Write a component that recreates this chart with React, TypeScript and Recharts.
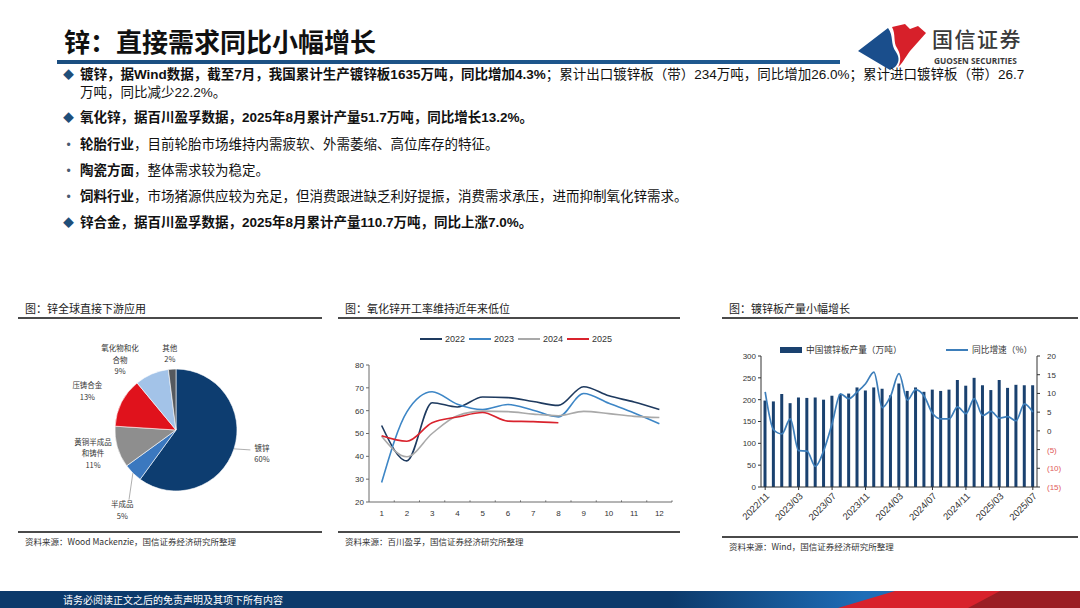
import React from "react";
import {
  Bar,
  Cell,
  ComposedChart,
  Line,
  LineChart,
  Pie,
  PieChart,
  ReferenceLine,
  XAxis,
  YAxis,
} from "recharts";

const CJK = '"Noto Sans CJK SC", "Noto Sans", sans-serif';
const NUM = '"Liberation Sans", "Noto Sans CJK SC", sans-serif';

// 图：锌全球直接下游应用
const useNames = ["镀锌", "半成品", "黄铜半成品和铸件", "压铸合金", "氧化物和化合物", "其他"];
const useShares = [60, 5, 11, 13, 9, 2];

// 图：氧化锌开工率维持近年来低位
const utilMonths = [1, 2, 3, 4, 5, 6, 7, 8, 9, 10, 11, 12];
const utilYears = ["2022", "2023", "2024", "2025"];
const util2022 = [53.5, 38, 63.5, 61.6, 66, 65.7, 64, 62.3, 70.5, 66.5, 63.8, 60.5];
const util2023 = [28.5, 59.5, 68.3, 62.8, 60.5, 62.7, 60.2, 57.3, 67.5, 63.2, 59, 54.3];
const util2024 = [48.8, 39.8, 50, 57.8, 59.8, 59.6, 58.5, 57.8, 59.7, 58.7, 57.5, 57];
const util2025 = [49, 46.6, 54.7, 57.2, 59.2, 55.4, 55.2, 54.7];
const utilAxisTicks = [20, 30, 40, 50, 60, 70, 80];
const utilBoundaries = [1.5, 2.5, 3.5, 4.5, 5.5, 6.5, 7.5, 8.5, 9.5, 10.5, 11.5, 12.5];

// 图：镀锌板产量小幅增长
const plateMonths = [
  "2022/11", "2022/12", "2023/01", "2023/02", "2023/03", "2023/04", "2023/05", "2023/06",
  "2023/07", "2023/08", "2023/09", "2023/10", "2023/11", "2023/12", "2024/01", "2024/02",
  "2024/03", "2024/04", "2024/05", "2024/06", "2024/07", "2024/08", "2024/09", "2024/10",
  "2024/11", "2024/12", "2025/01", "2025/02", "2025/03", "2025/04", "2025/05", "2025/06",
  "2025/07",
];
const plateOutput = [
  198, 196, 213, 192, 205, 204, 205, 200, 209, 213, 214, 228, 221, 228, 225, 210, 237,
  220, 228, 218, 223, 220, 223, 245, 232, 250, 233, 222, 245, 227, 234, 233, 233,
];
const plateYoy = [
  10.4, 0.3, -0.8, 3.2, -5.3, -5.4, -9.5, -5.3, 1.9, 9.9, 8.6, 10.4, 12.6, 15.7, 6.2, 9.3,
  15.3, 8.2, 11, 9.3, 4.7, 3.2, 3.2, 6.4, 4.6, 8.6, 4.1, 5.2, 3.4, 3.8, 2.7, 7.2, 5,
];
const plateLeftTicks = [0, 50, 100, 150, 200, 250, 300];
const plateRightTicks = [-15, -10, -5, 0, 5, 10, 15, 20];

const pieColors = ["#0D3D70", "#3B78BF", "#8E8E8E", "#E0121C", "#A3C3E8", "#55595E"];
// label placement per slice: extra distance beyond the rim, angle nudge, leader line
const pieLabelGap = [28, 35, 25, 36, 29, 16];
const pieLabelTurn = [3, 11, -1, 3, 15, 1];
const pieLeader = [true, true, false, false, false, false];
const utilColors = ["#1E3A5F", "#3D86C6", "#A9A9A9", "#D9232D"];

const pieRows = useNames.map((name, i) => ({ name, share: useShares[i] }));
const utilSeries = [util2022, util2023, util2024, util2025];
const utilRows = utilMonths.map((month, i) => {
  const row: Record<string, number> = { month };
  utilYears.forEach((year, k) => {
    if (utilSeries[k][i] !== undefined) row[year] = utilSeries[k][i];
  });
  return row;
});
const plateRows = plateMonths.map((month, i) => ({
  month,
  output: plateOutput[i],
  yoy: plateYoy[i],
}));

const RAD = Math.PI / 180;

function chunk(text: string, size: number) {
  const out: string[] = [];
  for (let i = 0; i < text.length; i += size) out.push(text.slice(i, i + size));
  return out;
}

function renderPieLabel(props: any) {
  const { cx, cy, midAngle, outerRadius, index, name, value } = props;
  const a = (midAngle + pieLabelTurn[index]) * RAD;
  const r = outerRadius + pieLabelGap[index];
  const x = cx + r * Math.cos(a);
  const y = cy - r * Math.sin(a);
  const lines = [...chunk(name, 5), `${value}%`];
  const lh = 11.5;
  const top = y - ((lines.length - 1) * lh) / 2;
  return (
    <text x={x} y={top} textAnchor="middle" fontSize={7.5} fill="#333" fontFamily={CJK}>
      {lines.map((l, i) => (
        <tspan key={i} x={x} y={top + i * lh} dominantBaseline="central">
          {l}
        </tspan>
      ))}
    </text>
  );
}

function renderPieLine(props: any) {
  const { cx, cy, midAngle, outerRadius, index } = props;
  if (!pieLeader[index]) return <g />;
  const a0 = midAngle * RAD;
  const a1 = (midAngle + pieLabelTurn[index]) * RAD;
  const r1 = outerRadius + pieLabelGap[index] - 12;
  const x0 = cx + outerRadius * Math.cos(a0);
  const y0 = cy - outerRadius * Math.sin(a0);
  const x1 = cx + r1 * Math.cos(a1);
  const y1 = cy - r1 * Math.sin(a1);
  return <path d={`M${x0},${y0}L${x1},${y1}`} stroke="#9a9a9a" strokeWidth={0.8} fill="none" />;
}

function RightTick(props: any) {
  const { x, y, payload } = props;
  const v = payload.value as number;
  const neg = v < 0;
  return (
    <text x={x + 5} y={y} dy={3} fontSize={8} fontFamily={NUM} fill={neg ? "#E05A5A" : "#333"}>
      {neg ? `(${-v})` : v}
    </text>
  );
}

function Panel(props: {
  left: number;
  width: number;
  title: string;
  source: string;
  bottom: number;
  children?: React.ReactNode;
}) {
  const { left, width, title, source, bottom } = props;
  return (
    <>
      <div style={{ position: "absolute", left: left + 7, top: 300, fontSize: 11, lineHeight: "16px", color: "#1a1a1a", fontFamily: CJK }}>
        {title}
      </div>
      <div style={{ position: "absolute", left, top: 317, width, height: 2, background: "#4a4a4a" }} />
      <div style={{ position: "absolute", left, top: bottom, width, height: 2, background: "#4a4a4a" }} />
      <div style={{ position: "absolute", left: left + 7, top: bottom + 4, fontSize: 8.5, lineHeight: "12px", color: "#333", fontFamily: CJK }}>
        {source}
      </div>
      {props.children}
    </>
  );
}

function UsePie() {
  return (
    <div style={{ position: "absolute", left: 0, top: 320 }}>
      <PieChart width={330} height={210}>
        <Pie
          data={pieRows}
          dataKey="share"
          nameKey="name"
          cx={171}
          cy={105}
          outerRadius={61}
          startAngle={90}
          endAngle={-270}
          stroke="#ffffff"
          strokeWidth={0.6}
          label={renderPieLabel}
          labelLine={renderPieLine}
          isAnimationActive={false}
        >
          {pieRows.map((r, i) => (
            <Cell key={r.name} fill={pieColors[i]} />
          ))}
        </Pie>
      </PieChart>
    </div>
  );
}

function UtilChart() {
  return (
    <>
      <div style={{ position: "absolute", left: 420, top: 334, display: "flex", alignItems: "center", fontFamily: NUM, fontSize: 9, color: "#333" }}>
        {utilYears.map((y, i) => (
          <div key={y} style={{ display: "flex", alignItems: "center", marginRight: 4 }}>
            <span style={{ display: "inline-block", width: 22, height: 2, background: utilColors[i], marginRight: 3 }} />
            <span>{y}</span>
          </div>
        ))}
      </div>
      <div style={{ position: "absolute", left: 330, top: 325 }}>
        <LineChart width={360} height={200} data={utilRows} margin={{ top: 40, right: 18, bottom: 0, left: 9 }}>
          <XAxis
            dataKey="month"
            type="number"
            domain={[0.5, 12.5]}
            ticks={utilMonths}
            interval={0}
            tickLine={false}
            axisLine={{ stroke: "#6b6b6b" }}
            tick={{ fontSize: 8, fill: "#333", fontFamily: NUM }}
            height={23}
          />
          <YAxis
            domain={[20, 80]}
            ticks={utilAxisTicks}
            interval={0}
            width={30}
            axisLine={{ stroke: "#6b6b6b" }}
            tickLine={{ stroke: "#6b6b6b" }}
            tickSize={3}
            tick={{ fontSize: 8, fill: "#333", fontFamily: NUM }}
          />
          {utilBoundaries.map((b) => (
            <ReferenceLine
              key={b}
              segment={[{ x: b, y: 20 }, { x: b, y: 20.7 }]}
              stroke="#6b6b6b"
            />
          ))}
          {utilYears.map((y, i) => (
            <Line
              key={y}
              dataKey={y}
              type="monotone"
              stroke={utilColors[i]}
              strokeWidth={1.6}
              dot={false}
              isAnimationActive={false}
            />
          ))}
        </LineChart>
      </div>
    </>
  );
}

function PlateChart() {
  return (
    <>
      <div style={{ position: "absolute", left: 780, top: 343, display: "flex", alignItems: "center", fontFamily: CJK, fontSize: 8.7, color: "#333" }}>
        <span style={{ display: "inline-block", width: 22, height: 6, background: "#1A416F", marginRight: 4 }} />
        <span>中国镀锌板产量（万吨）</span>
      </div>
      <div style={{ position: "absolute", left: 946, top: 343, display: "flex", alignItems: "center", fontFamily: CJK, fontSize: 8.7, color: "#333" }}>
        <span style={{ display: "inline-block", width: 22, height: 2, background: "#3D7EBA", marginRight: 4 }} />
        <span>同比增速（%）</span>
      </div>
      <div style={{ position: "absolute", left: 700, top: 340 }}>
        <ComposedChart
          width={380}
          height={192}
          data={plateRows}
          margin={{ top: 16, right: 8, bottom: 0, left: 21 }}
          barCategoryGap="30%"
        >
          <XAxis
            dataKey="month"
            interval={3}
            angle={-45}
            textAnchor="end"
            height={45}
            tick={{ fontSize: 9.5, fill: "#333", fontFamily: NUM }}
            tickLine={{ stroke: "#333" }}
            tickSize={3}
            axisLine={{ stroke: "#333" }}
          />
          <YAxis
            yAxisId="l"
            domain={[0, 300]}
            ticks={plateLeftTicks}
            interval={0}
            width={40}
            axisLine={{ stroke: "#333" }}
            tickLine={{ stroke: "#333" }}
            tickSize={3}
            tick={{ fontSize: 8, fill: "#333", fontFamily: NUM }}
          />
          <YAxis
            yAxisId="r"
            orientation="right"
            domain={[-15, 20]}
            ticks={plateRightTicks}
            interval={0}
            width={35}
            axisLine={{ stroke: "#333" }}
            tickLine={{ stroke: "#333" }}
            tickSize={3}
            tick={<RightTick />}
          />
          <Bar yAxisId="l" dataKey="output" fill="#1A416F" isAnimationActive={false} />
          <Line
            yAxisId="r"
            dataKey="yoy"
            type="monotone"
            stroke="#3D7EBA"
            strokeWidth={1.7}
            dot={false}
            isAnimationActive={false}
          />
        </ComposedChart>
      </div>
    </>
  );
}

const TEXT_FONT = '"Liberation Sans", "Noto Sans CJK SC", sans-serif';

function Bullet(props: { top: number; kind: "diamond" | "dot"; children: React.ReactNode }) {
  return (
    <div style={{ position: "absolute", left: 57, top: props.top - 9, height: 18, lineHeight: "18px", fontSize: 13.5, color: "#111", fontFamily: TEXT_FONT, whiteSpace: "nowrap" }}>
      <span style={{ display: "inline-block", width: 23, textAlign: "center", color: props.kind === "diamond" ? "#1F4E79" : "#4a5a70", fontSize: props.kind === "diamond" ? 11 : 12 }}>
        {props.kind === "diamond" ? "◆" : "•"}
      </span>
      {props.children}
    </div>
  );
}

function Logo() {
  return (
    <>
      <svg style={{ position: "absolute", left: 850, top: 20 }} width={85} height={50}>
        <path d="M8,31 L38,8 C44,16 40,24 46,32 C50,38 49,43 45,47 L40,50 Z" fill="#1A4E8C" />
        <path d="M42,7 L55,4 L60,9 L68,6 L76,13 L60,31 C55,38 52,44 48,47 C52,40 50,33 47,28 C43,22 46,14 42,7 Z" fill="#D7202A" />
      </svg>
      <div style={{ position: "absolute", left: 932, top: 28, fontSize: 21, lineHeight: "21px", color: "#3a3a3a", fontFamily: CJK, fontWeight: 500, letterSpacing: 1.5 }}>
        国信证券
      </div>
      <div style={{ position: "absolute", left: 934, top: 56, fontSize: 8.3, lineHeight: "9px", color: "#3a3a3a", fontFamily: '"Open Sans", sans-serif', fontWeight: 700 }}>
        GUOSEN SECURITIES
      </div>
    </>
  );
}

function Footer() {
  return (
    <>
      <svg style={{ position: "absolute", left: 0, top: 591 }} width={1080} height={17}>
        <defs>
          <linearGradient id="ftblue" x1="0" x2="1" y1="0" y2="0">
            <stop offset="0" stopColor="#0C3A6B" />
            <stop offset="0.62" stopColor="#0C3A6B" />
            <stop offset="0.8" stopColor="#1E6DB7" />
          </linearGradient>
        </defs>
        <rect x={0} y={0} width={1080} height={17} fill="url(#ftblue)" />
        <polygon points="895,0 1080,0 1080,17 838,17" fill="#D8222C" />
        <polygon points="1000,0 1080,0 1080,17 968,17" fill="#9A1E24" />
      </svg>
      <div style={{ position: "absolute", left: 63, top: 592, fontSize: 10, lineHeight: "15px", color: "#fff", fontFamily: CJK }}>
        请务必阅读正文之后的免责声明及其项下所有内容
      </div>
    </>
  );
}

export default function App() {
  const b = { fontWeight: 700 } as const;
  return (
    <div style={{ position: "absolute", left: 0, top: 0, width: 1080, height: 608, background: "#fff", overflow: "hidden", fontFamily: CJK }}>
      <div style={{ position: "absolute", left: 64, top: 26, fontSize: 26, lineHeight: "30px", fontWeight: 700, color: "#111", fontFamily: CJK }}>
        锌：直接需求同比小幅增长
      </div>
      <div style={{ position: "absolute", left: 57, top: 60, width: 783, height: 3.5, background: "linear-gradient(90deg, #1B4E80, #1F5A92)" }} />
      <Logo />

      <Bullet top={75} kind="diamond">
        <span style={b}>镀锌，据Wind数据，截至7月，我国累计生产镀锌板1635万吨，同比增加4.3%</span>
        ；累计出口镀锌板（带）234万吨，同比增加26.0%；累计进口镀锌板（带）26.7
      </Bullet>
      <div style={{ position: "absolute", left: 80, top: 84, lineHeight: "18px", fontSize: 13.5, color: "#111", fontFamily: TEXT_FONT }}>
        万吨，同比减少22.2%。
      </div>
      <Bullet top={118} kind="diamond">
        <span style={b}>氧化锌，据百川盈孚数据，2025年8月累计产量51.7万吨，同比增长13.2%。</span>
      </Bullet>
      <Bullet top={145} kind="dot">
        <span style={b}>轮胎行业</span>，目前轮胎市场维持内需疲软、外需萎缩、高位库存的特征。
      </Bullet>
      <Bullet top={171} kind="dot">
        <span style={b}>陶瓷方面</span>，整体需求较为稳定。
      </Bullet>
      <Bullet top={197} kind="dot">
        <span style={b}>饲料行业</span>，市场猪源供应较为充足，但消费跟进缺乏利好提振，消费需求承压，进而抑制氧化锌需求。
      </Bullet>
      <Bullet top={223} kind="diamond">
        <span style={b}>锌合金，据百川盈孚数据，2025年8月累计产量110.7万吨，同比上涨7.0%。</span>
      </Bullet>

      <Panel left={18} width={304} title="图：锌全球直接下游应用" source="资料来源：Wood Mackenzie，国信证券经济研究所整理" bottom={531}>
        <UsePie />
      </Panel>
      <Panel left={338} width={342} title="图：氧化锌开工率维持近年来低位" source="资料来源：百川盈孚，国信证券经济研究所整理" bottom={531}>
        <UtilChart />
      </Panel>
      <Panel left={722} width={356} title="图：镀锌板产量小幅增长" source="资料来源：Wind，国信证券经济研究所整理" bottom={536}>
        <PlateChart />
      </Panel>

      <Footer />
    </div>
  );
}
